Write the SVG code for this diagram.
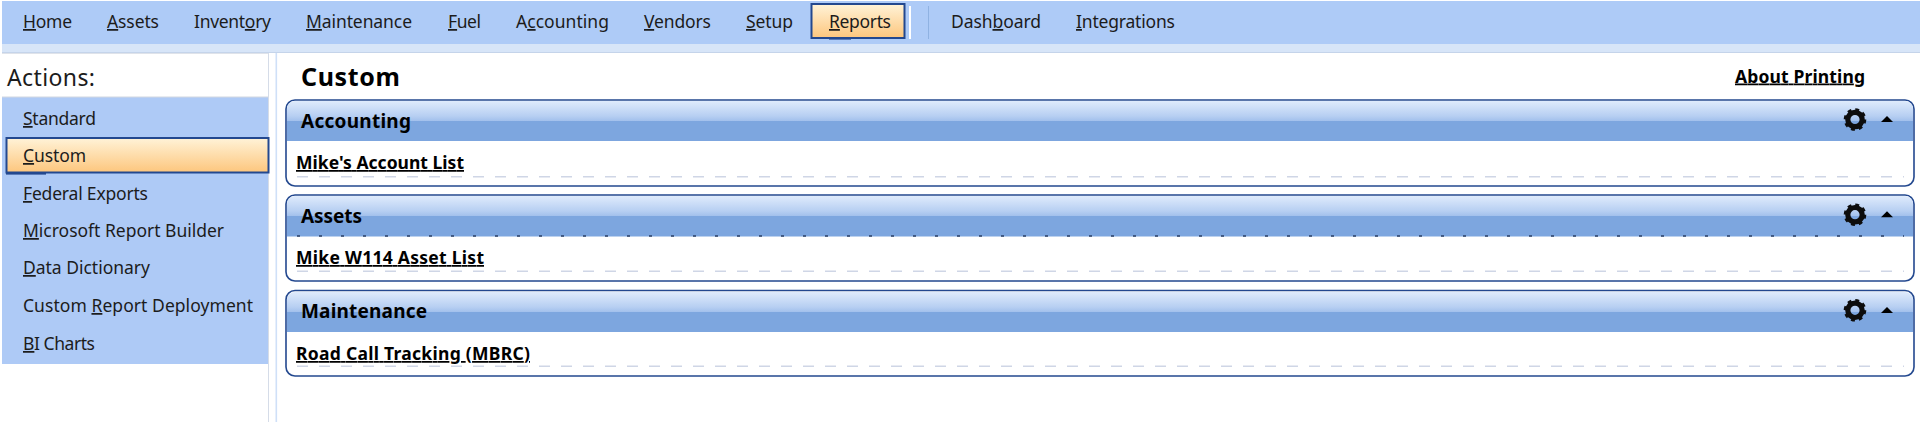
<svg xmlns="http://www.w3.org/2000/svg" width="1920" height="422" viewBox="0 0 1920 422">
<style>
text{font-family:"Noto Sans","Open Sans","DejaVu Sans",sans-serif;fill:#1c1c1c}
.m{font-size:17.5px}
.s{font-size:17.5px}
.b{font-weight:700;fill:#000}
.h{font-size:19px}
.l{font-size:17.5px;text-decoration:underline}
.u{text-decoration:underline}
.box{fill:#fff;stroke:#23488f;stroke-width:1.6}
.dash{stroke:#cfd6e6;stroke-width:1.4;stroke-dasharray:11 11;fill:none}
.tick{stroke:#2a3f66;stroke-width:1.4;stroke-dasharray:3 19;fill:none}
.bd{stroke:#23488f;stroke-width:2}
</style>
<defs>
<linearGradient id="org" x1="0" y1="0" x2="0" y2="1"><stop offset="0" stop-color="#fff3d8"/><stop offset="1" stop-color="#fdc67d"/></linearGradient>
<linearGradient id="hdr" x1="0" y1="0" x2="0" y2="1"><stop offset="0" stop-color="#dfebfc"/><stop offset="0.75" stop-color="#b7cff2"/><stop offset="1" stop-color="#a2c0ec"/></linearGradient>
<g id="gear"><circle r="7.2" fill="none" stroke="#0d0d0d" stroke-width="5.2"/><circle r="10" fill="none" stroke="#0d0d0d" stroke-width="2.6" stroke-dasharray="3.9 3.95"/></g>
</defs>
<rect width="1920" height="422" fill="#fff"/>

<g id="menu">
<rect x="2" y="1" width="1918" height="43" fill="#aecbf7"/>
<rect x="2" y="44" width="1918" height="8" fill="#d7e5f8"/>
<rect x="2" y="52" width="1918" height="1" fill="#c5d4ea"/>
<rect id="reports-button" x="811.5" y="4" width="93" height="34" fill="url(#org)" class="bd"/>
<rect x="829" y="38" width="22" height="1.6" fill="#23488f"/>
<rect x="909" y="6" width="2" height="33" fill="#fff"/>
<rect x="928" y="6" width="1" height="33" fill="#8fb2e2"/>
<text class="m" x="23" y="28" textLength="49"><tspan class="u">H</tspan>ome</text>
<text class="m" x="107" y="28" textLength="52"><tspan class="u">A</tspan>ssets</text>
<text class="m" x="194" y="28" textLength="77">Invent<tspan class="u">o</tspan>ry</text>
<text class="m" x="306" y="28" textLength="106"><tspan class="u">M</tspan>aintenance</text>
<text class="m" x="448" y="28" textLength="33"><tspan class="u">F</tspan>uel</text>
<text class="m" x="516" y="28" textLength="93">A<tspan class="u">c</tspan>counting</text>
<text class="m" x="644" y="28" textLength="67"><tspan class="u">V</tspan>endors</text>
<text class="m" x="746" y="28" textLength="47"><tspan class="u">S</tspan>etup</text>
<text class="m" x="829" y="28" textLength="62"><tspan class="u">R</tspan>eports</text>
<text class="m" x="951" y="28" textLength="90">Dash<tspan class="u">b</tspan>oard</text>
<text class="m" x="1076" y="28" textLength="99"><tspan class="u">I</tspan>ntegrations</text>
</g>

<g id="actions">
<rect x="268" y="53" width="1" height="369" fill="#d5dce8"/>
<rect x="275.5" y="53" width="1.6" height="369" fill="#cfe0f8"/>
<rect x="2" y="53" width="266" height="1" fill="#dfe3ea"/>
<text x="7" y="86" font-size="23" textLength="88">Actions:</text>
<rect x="2" y="97" width="266" height="267" fill="#aecaf6"/>
<rect x="2" y="96.5" width="266" height="1" fill="#d2d8e2"/>
<rect id="custom-item" x="6.5" y="138" width="262" height="34.5" fill="url(#org)" class="bd"/>
<rect x="6" y="173" width="40" height="1.6" fill="#23488f"/>
<text class="s" x="23" y="125" textLength="73"><tspan class="u">S</tspan>tandard</text>
<text class="s" x="23" y="162" textLength="63"><tspan class="u">C</tspan>ustom</text>
<text class="s" x="23" y="200" textLength="125"><tspan class="u">F</tspan>ederal Exports</text>
<text class="s" x="23" y="237" textLength="201"><tspan class="u">M</tspan>icrosoft Report Builder</text>
<text class="s" x="23" y="274" textLength="127"><tspan class="u">D</tspan>ata Dictionary</text>
<text class="s" x="23" y="312" textLength="230">Custom <tspan class="u">R</tspan>eport Deployment</text>
<text class="s" x="23" y="350" textLength="72"><tspan class="u">B</tspan>I Charts</text>
</g>

<g id="page-heading">
<text class="b" x="301" y="86" font-size="25" textLength="99">Custom</text>
<text class="b l" x="1735" y="82.5" textLength="130">About Printing</text>
</g>

<g id="panel-accounting">
<rect class="box" x="286" y="100" width="1628" height="86" rx="9"/>
<path d="M287 121V109a8 8 0 0 1 8-8H1905a8 8 0 0 1 8 8V121Z" fill="url(#hdr)"/>
<rect x="287" y="121" width="1626" height="20" fill="#7da6df"/>
<text class="b h" x="301" y="127.5" textLength="110">Accounting</text>
<use href="#gear" x="1855" y="119.5"/>
<path d="M1881 122L1887 116L1893 122Z" fill="#000"/>
<text class="b l" x="296" y="169" textLength="168">Mike's Account List</text>
<path class="dash" d="M297 176.7H1904"/>
</g>

<g id="panel-assets">
<rect class="box" x="286" y="195" width="1628" height="86" rx="9"/>
<path d="M287 216V204a8 8 0 0 1 8-8H1905a8 8 0 0 1 8 8V216Z" fill="url(#hdr)"/>
<rect x="287" y="216" width="1626" height="20.5" fill="#7da6df"/>
<path class="tick" d="M297 236H1904"/>
<text class="b h" x="301" y="222.5" textLength="61">Assets</text>
<use href="#gear" x="1855" y="214.7"/>
<path d="M1881 217.3L1887 211.3L1893 217.3Z" fill="#000"/>
<text class="b l" x="296" y="264" textLength="188">Mike W114 Asset List</text>
<path class="dash" d="M297 271.3H1904"/>
</g>

<g id="panel-maintenance">
<rect class="box" x="286" y="290.5" width="1628" height="85.5" rx="9"/>
<path d="M287 312V300a8 8 0 0 1 8-8H1905a8 8 0 0 1 8 8V312Z" fill="url(#hdr)"/>
<rect x="287" y="312" width="1626" height="20" fill="#7da6df"/>
<text class="b h" x="301" y="317.5" textLength="126">Maintenance</text>
<use href="#gear" x="1855" y="310.3"/>
<path d="M1881 313L1887 307L1893 313Z" fill="#000"/>
<text class="b l" x="296" y="360" textLength="234">Road Call Tracking (MBRC)</text>
<path class="dash" d="M297 366.3H1904"/>
</g>
</svg>
